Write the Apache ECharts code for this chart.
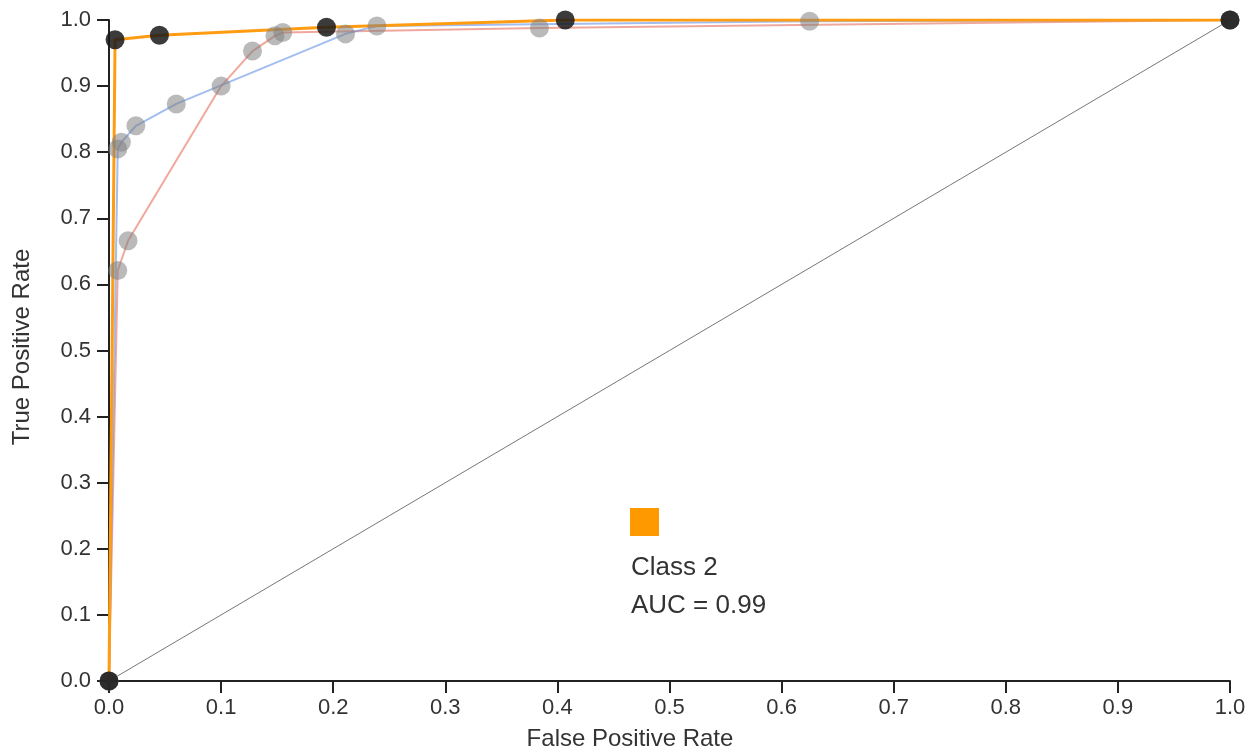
<!DOCTYPE html>
<html>
<head>
<meta charset="utf-8">
<script src="https://cdn.jsdelivr.net/npm/echarts@6/dist/echarts.min.js"></script>
<style>
html,body{margin:0;padding:0;background:#fff;}
#chart{width:1255px;height:751px;}
</style>
</head>
<body>
<div id="chart"></div>
<script>
// ---- data ----
const xTitle = 'False Positive Rate';
const yTitle = 'True Positive Rate';
const legendLabel = 'Class 2';
const aucValue = 0.99;

const diagonal = [[0, 0], [1, 1]];

// class 0 (red, background)
const redFpr = [0, 0.0078, 0.017, 0.100, 0.128, 0.148, 0.155, 0.384, 1];
const redTpr = [0, 0.621, 0.666, 0.900, 0.953, 0.976, 0.981, 0.988, 1];

// class 1 (blue, background)
const blueFpr = [0, 0.0078, 0.011, 0.024, 0.060, 0.211, 0.239, 0.625, 1];
const blueTpr = [0, 0.805, 0.815, 0.840, 0.873, 0.979, 0.991, 0.998, 1];

// class 2 (orange, highlighted)
const orangeFpr = [0, 0.0054, 0.045, 0.194, 0.407, 1];
const orangeTpr = [0, 0.970, 0.977, 0.989, 1.000, 1];

const zip = (a, b) => a.map((v, i) => [v, b[i]]);

const font = '"Liberation Sans", Arial, sans-serif';
const textColor = '#333';

const chart = echarts.init(document.getElementById('chart'), null, {renderer: 'canvas'});

const axisCommon = {
  type: 'value', min: 0, max: 1, interval: 0.1,
  splitLine: {show: false},
  axisLine: {show: true, lineStyle: {color: '#222', width: 2}},
  axisTick: {show: true, inside: false, length: 12, lineStyle: {color: '#222', width: 2}},
  axisLabel: {
    color: textColor, fontFamily: font, fontSize: 22,
    formatter: v => v.toFixed(1)
  }
};

chart.setOption({
  animation: false,
  grid: {left: 109, right: 25, top: 20, bottom: 70, containLabel: false},
  xAxis: Object.assign({}, axisCommon, {
    axisLabel: Object.assign({}, axisCommon.axisLabel, {margin: 16})
  }),
  yAxis: Object.assign({}, axisCommon, {
    axisLabel: Object.assign({}, axisCommon.axisLabel, {margin: 18})
  }),
  series: [
    {
      type: 'line', data: diagonal, symbol: 'none',
      lineStyle: {color: '#777', width: 1}, silent: true
    },
    {
      type: 'line', data: zip(redFpr, redTpr),
      symbol: 'circle', symbolSize: 19, showSymbol: true,
      lineStyle: {color: 'rgba(232,110,90,0.6)', width: 2},
      itemStyle: {color: 'rgba(130,130,130,0.55)'}
    },
    {
      type: 'line', data: zip(blueFpr, blueTpr),
      symbol: 'circle', symbolSize: 19, showSymbol: true,
      lineStyle: {color: 'rgba(100,145,230,0.6)', width: 2},
      itemStyle: {color: 'rgba(130,130,130,0.55)'}
    },
    {
      type: 'line', data: zip(orangeFpr, orangeTpr),
      symbol: 'circle', symbolSize: 19, showSymbol: true,
      lineStyle: {color: '#ff9c12', width: 3},
      itemStyle: {color: 'rgba(25,25,25,0.85)'}
    }
  ],
  graphic: [
    {
      type: 'text',
      style: {x: 630, y: 739, text: xTitle, font: '24px ' + font, fill: textColor,
              align: 'center', verticalAlign: 'middle'}
    },
    {
      type: 'text', x: 22, y: 347, rotation: Math.PI / 2,
      style: {x: 0, y: 0, text: yTitle, font: '24px ' + font, fill: textColor,
              align: 'center', verticalAlign: 'middle'}
    },
    {
      type: 'rect', shape: {x: 630, y: 508, width: 29, height: 28},
      style: {fill: '#ff9900'}
    },
    {
      type: 'text',
      style: {x: 631, y: 568, text: legendLabel, font: '26px ' + font, fill: textColor,
              align: 'left', verticalAlign: 'middle'}
    },
    {
      type: 'text',
      style: {x: 631, y: 606, text: 'AUC = ' + aucValue.toFixed(2), font: '26px ' + font, fill: textColor,
              align: 'left', verticalAlign: 'middle'}
    }
  ]
});
</script>
</body>
</html>
